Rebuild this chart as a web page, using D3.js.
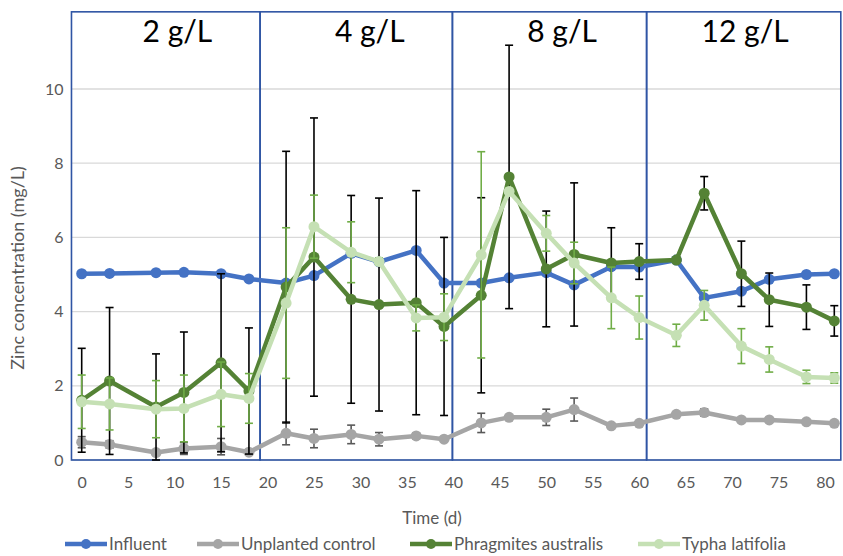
<!DOCTYPE html>
<html>
<head>
<meta charset="utf-8">
<script src="https://cdn.jsdelivr.net/npm/d3@7"></script>
<style>
  body { margin: 0; background: #fff; }
  svg { display: block; font-family: Lato, "Open Sans", sans-serif; }
</style>
</head>
<body>
<svg id="chart" width="843" height="556"></svg>
<script>
// sampling days
const days = [0, 3, 8, 11, 15, 18, 22, 25, 29, 32, 36, 39, 43, 46, 50, 53, 57, 60, 64, 67, 71, 74, 78, 81]

// zinc concentration (mg/L)
const influent = [5.02, 5.03, 5.05, 5.06, 5.02, 4.88, 4.77, 4.97, 5.57, 5.34, 5.65, 4.77,
  4.77, 4.91, 5.05, 4.72, 5.21, 5.2, 5.39, 4.37, 4.55, 4.87, 5.0, 5.02]
const unplanted = [0.48, 0.42, 0.2, 0.31, 0.36, 0.21, 0.72, 0.58, 0.69, 0.56, 0.65, 0.56,
  1.0, 1.15, 1.15, 1.36, 0.92, 0.99, 1.23, 1.28, 1.08, 1.08, 1.03, 0.99]
const unplantedErr = [0.15, 0.1, 0.05, 0.16, 0.22, 0.05, 0.31, 0.25, 0.25, 0.18, 0.08, 0.05,
  0.26, 0.05, 0.22, 0.31, 0.05, 0.05, 0.05, 0.1, 0.05, 0.05, 0.05, 0.05]
const phragmites = [1.61, 2.13, 1.43, 1.82, 2.62, 1.86, 4.66, 5.47, 4.33, 4.19, 4.24, 3.6,
  4.44, 7.63, 5.15, 5.54, 5.31, 5.35, 5.39, 7.19, 5.02, 4.32, 4.12, 3.75]
const phragmitesErr = [1.4, 1.98, 1.43, 1.63, 2.4, 1.7, 3.66, 3.75, 2.8, 2.87, 3.02, 2.4,
  2.63, 3.55, 1.56, 1.93, 0.95, 0.48, 0.05, 0.45, 0.88, 0.72, 0.6, 0.41]
const typha = [1.57, 1.51, 1.37, 1.39, 1.77, 1.66, 4.23, 6.29, 5.6, 5.35, 3.83, 3.85,
  5.53, 7.24, 6.11, 5.31, 4.37, 3.84, 3.36, 4.17, 3.07, 2.71, 2.24, 2.21]
const typhaErr = [0.72, 0.7, 0.77, 0.9, 0.87, 0.67, 2.03, 0.85, 0.82, 0.1, 0.35, 0.63,
  2.78, 0.1, 0.48, 0.56, 0.83, 0.58, 0.3, 0.4, 0.47, 0.34, 0.18, 0.14]

// loading phases (box edges in days) and their labels
const phaseEdges = [-1.1, 19.2, 39.9, 60.8, 81.7]
const phaseLabels = ["2 g/L", "4 g/L", "8 g/L", "12 g/L"]
const phaseLabelDays = [10.3, 31, 51.7, 71.4]

const xTicks = d3.range(0, 81, 5)
const yTicks = [0, 2, 4, 6, 8, 10]
const yTop = 12.08

const series = [
  { name: "Influent", values: influent, err: null, color: "#4472C4", errColor: null },
  { name: "Unplanted control", values: unplanted, err: unplantedErr, color: "#A5A5A5", errColor: "#595959" },
  { name: "Phragmites australis", values: phragmites, err: phragmitesErr, color: "#548235", errColor: "#000" },
  { name: "Typha latifolia", values: typha, err: typhaErr, color: "#C5E0B4", errColor: "#70AD47" }
]

const svg = d3.select("#chart")

const x = d3.scaleLinear().domain([0, 80]).range([81.7, 825])
const y = d3.scaleLinear().domain([0, 10]).range([460, 89])

//* gridlines
svg.append("g")
  .selectAll("line")
  .data(yTicks)
  .join("line")
  .attr("x1", x(phaseEdges[0]))
  .attr("x2", x(phaseEdges[phaseEdges.length - 1]))
  .attr("y1", d => y(d))
  .attr("y2", d => y(d))
  .attr("stroke", "#d9d9d9")
  .attr("stroke-width", 1.3)

//* axes (labels only)
const yAxis = svg.append("g")
  .attr("transform", `translate(${x(phaseEdges[0]) - 4},0)`)
  .call(d3.axisLeft(y).tickValues(yTicks).tickSize(0).tickPadding(4))
yAxis.select(".domain").remove()
yAxis.selectAll("text")
  .attr("fill", "#595959")
  .style("font-size", "16px")
  .style("font-family", "Lato, sans-serif")

const xAxis = svg.append("g")
  .attr("transform", `translate(0,${y(0)})`)
  .call(d3.axisBottom(x).tickValues(xTicks).tickSize(0).tickPadding(17))
xAxis.select(".domain").remove()
xAxis.selectAll("text")
  .attr("fill", "#595959")
  .style("font-size", "16px")
  .style("font-family", "Lato, sans-serif")

//* phase boxes
svg.append("g")
  .selectAll("rect")
  .data(phaseLabels)
  .join("rect")
  .attr("x", (d, i) => x(phaseEdges[i]))
  .attr("width", (d, i) => x(phaseEdges[i + 1]) - x(phaseEdges[i]))
  .attr("y", y(yTop))
  .attr("height", y(0) - y(yTop))
  .attr("fill", "none")
  .attr("stroke", "#2F55A4")
  .attr("stroke-width", 1.6)

svg.append("g")
  .selectAll("text")
  .data(phaseLabels)
  .join("text")
  .attr("x", (d, i) => x(phaseLabelDays[i]))
  .attr("y", 42)
  .attr("text-anchor", "middle")
  .attr("fill", "#000")
  .style("font-size", "30px")
  .text(d => d)

//* series
const line = d3.line()
  .x((d, i) => x(days[i]))
  .y(d => y(d))

series.forEach(s => {
  const g = svg.append("g")

  if (s.err) {
    const bars = g.selectAll(".err")
      .data(s.values.map((v, i) => ({ day: days[i], v, e: s.err[i] })))
      .join("g")
      .attr("class", "err")
      .attr("stroke", s.errColor)
      .attr("stroke-width", 1.6)
    bars.append("line")
      .attr("x1", d => x(d.day)).attr("x2", d => x(d.day))
      .attr("y1", d => y(d.v - d.e)).attr("y2", d => y(d.v + d.e))
    bars.append("line")
      .attr("x1", d => x(d.day) - 4).attr("x2", d => x(d.day) + 4)
      .attr("y1", d => y(d.v + d.e)).attr("y2", d => y(d.v + d.e))
    bars.append("line")
      .attr("x1", d => x(d.day) - 4).attr("x2", d => x(d.day) + 4)
      .attr("y1", d => y(d.v - d.e)).attr("y2", d => y(d.v - d.e))
  }

  g.append("path")
    .datum(s.values)
    .attr("d", line)
    .attr("fill", "none")
    .attr("stroke", s.color)
    .attr("stroke-width", 4.5)
    .attr("stroke-linejoin", "round")

  g.selectAll("circle")
    .data(s.values)
    .join("circle")
    .attr("cx", (d, i) => x(days[i]))
    .attr("cy", d => y(d))
    .attr("r", 5.5)
    .attr("fill", s.color)
})

//* axis title
svg.append("text")
  .attr("x", 432)
  .attr("y", 524)
  .attr("text-anchor", "middle")
  .attr("fill", "#595959")
  .style("font-size", "17px")
  .text("Time (d)")

svg.append("text")
  .attr("transform", `translate(24,${(y(0) + y(yTop)) / 2 + 32}) rotate(-90)`)
  .attr("text-anchor", "middle")
  .attr("fill", "#595959")
  .style("font-size", "18px")
  .text("Zinc concentration (mg/L)")

//* legend
const legendX = [65, 197, 410, 638]
const legend = svg.append("g")
  .selectAll("g")
  .data(series)
  .join("g")
  .attr("transform", (d, i) => `translate(${legendX[i]},544)`)

legend.append("line")
  .attr("x1", 0).attr("x2", 42)
  .attr("stroke", d => d.color)
  .attr("stroke-width", 4.5)
legend.append("circle")
  .attr("cx", 21).attr("r", 5)
  .attr("fill", d => d.color)
legend.append("text")
  .attr("x", 44)
  .attr("dy", "0.35em")
  .attr("fill", "#595959")
  .style("font-size", "17px")
  .text(d => d.name)
</script>
</body>
</html>
